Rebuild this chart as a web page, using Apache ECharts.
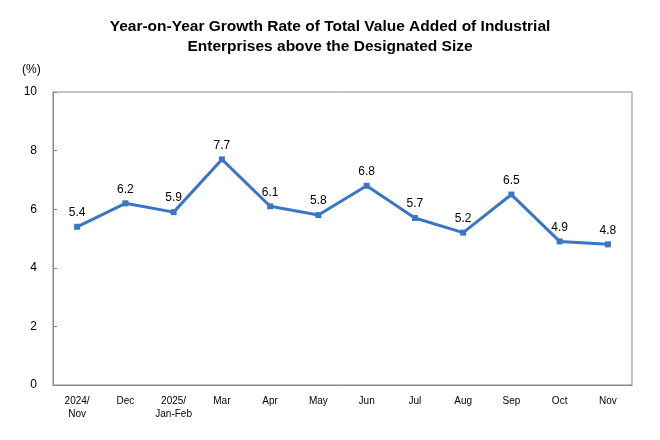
<!DOCTYPE html>
<html>
<head>
<meta charset="utf-8">
<script src="https://cdn.jsdelivr.net/npm/echarts@6/dist/echarts.min.js"></script>
<style>html,body{margin:0;padding:0;background:#fff;}#c{width:660px;height:440px;}</style>
</head>
<body>
<div id="c"></div>
<script>
var categories = ['2024/\nNov','Dec','2025/\nJan-Feb','Mar','Apr','May','Jun','Jul','Aug','Sep','Oct','Nov'];
var growthValues = [5.4, 6.2, 5.9, 7.7, 6.1, 5.8, 6.8, 5.7, 5.2, 6.5, 4.9, 4.8];
var yTicks = [0, 2, 4, 6, 8, 10];

var chart = echarts.init(document.getElementById('c'));
var font = '"Liberation Sans", Arial, sans-serif';
chart.setOption({
  animation: false,
  backgroundColor: '#fff',
  title: {
    text: 'Year-on-Year Growth Rate of Total Value Added of Industrial\nEnterprises above the Designated Size',
    left: 'center',
    top: 12,
    textStyle: {fontFamily: font, fontSize: 15.5, fontWeight: 'bold', color: '#000', lineHeight: 20}
  },
  graphic: [{
    type: 'text', left: 22, top: 64,
    style: {text: '(%)', fontFamily: font, fontSize: 12, fill: '#000'}
  }],
  grid: {left: 53, right: 28, top: 92, bottom: 55, show: true, borderColor: '#888', borderWidth: 1},
  xAxis: {
    type: 'category',
    data: categories,
    boundaryGap: true,
    axisLine: {lineStyle: {color: '#888'}},
    axisTick: {inside: true, length: 4, lineStyle: {color: '#888'}},
    axisLabel: {fontFamily: font, fontSize: 10, color: '#000', margin: 10, lineHeight: 13, interval: 0}
  },
  yAxis: {
    type: 'value',
    min: yTicks[0], max: yTicks[yTicks.length - 1], interval: 2,
    axisLine: {show: true, lineStyle: {color: '#888'}},
    axisTick: {show: true, inside: true, length: 4, lineStyle: {color: '#888'}},
    splitLine: {show: false},
    axisLabel: {fontFamily: font, fontSize: 12, color: '#000', margin: 16}
  },
  series: [{
    type: 'line',
    data: growthValues,
    symbol: 'rect',
    symbolSize: 6,
    lineStyle: {color: '#3a77c2', width: 3},
    itemStyle: {color: '#3a77c2'},
    label: {show: true, position: 'top', distance: 5, fontFamily: font, fontSize: 12, color: '#000',
      formatter: function(p){ return p.value.toFixed(1); }}
  }]
});
</script>
</body>
</html>
